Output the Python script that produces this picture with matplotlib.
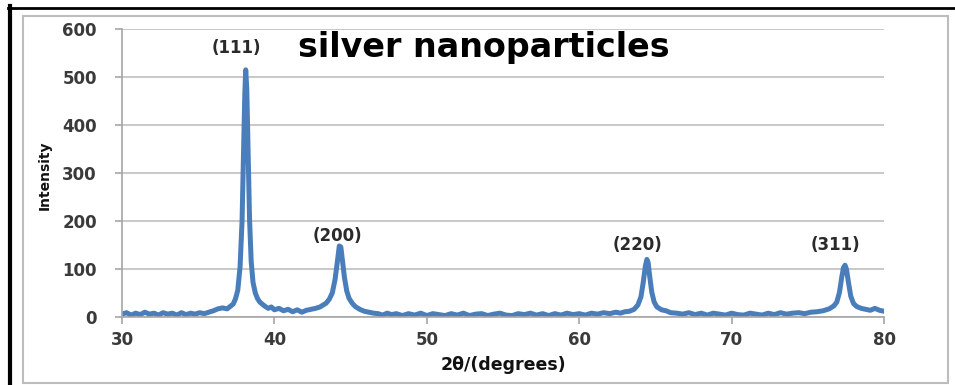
import matplotlib
matplotlib.use("Agg")
import matplotlib.pyplot as plt
from matplotlib.lines import Line2D
from matplotlib.patches import Rectangle

# XRD pattern (2theta in degrees, intensity in counts)
two_theta = [
    30.0, 30.3, 30.6, 30.9, 31.2, 31.5, 31.8, 32.1, 32.4, 32.7,
    33.0, 33.3, 33.6, 33.9, 34.2, 34.5, 34.8, 35.1, 35.4, 35.7,
    36.0, 36.3, 36.6, 36.9, 37.1, 37.3, 37.45, 37.6, 37.75, 37.88,
    37.98, 38.06, 38.12, 38.19, 38.27, 38.37, 38.48, 38.6, 38.75, 38.9,
    39.05, 39.2, 39.4, 39.6, 39.8, 40.0, 40.3, 40.6, 40.9, 41.2,
    41.5, 41.8, 42.1, 42.4, 42.7, 43.0, 43.2, 43.4, 43.6, 43.8,
    43.98, 44.12, 44.26, 44.36, 44.46, 44.6, 44.75, 44.9, 45.1, 45.3,
    45.6, 45.9, 46.2, 46.5, 46.8, 47.1, 47.4, 47.7, 48.0, 48.4,
    48.8, 49.2, 49.6, 50.0, 50.4, 50.8, 51.2, 51.6, 52.0, 52.4,
    52.8, 53.2, 53.6, 54.0, 54.4, 54.8, 55.2, 55.6, 56.0, 56.4,
    56.8, 57.2, 57.6, 58.0, 58.4, 58.8, 59.2, 59.6, 60.0, 60.4,
    60.8, 61.2, 61.6, 62.0, 62.4, 62.7, 63.0, 63.3, 63.6, 63.85,
    64.05, 64.2, 64.34, 64.44, 64.52, 64.62, 64.76, 64.92, 65.1, 65.4,
    65.7, 66.0, 66.4, 66.8, 67.2, 67.6, 68.0, 68.4, 68.8, 69.2,
    69.6, 70.0, 70.4, 70.8, 71.2, 71.6, 72.0, 72.4, 72.8, 73.2,
    73.6, 74.0, 74.4, 74.8, 75.2, 75.6, 76.0, 76.4, 76.7, 76.9,
    77.08, 77.22, 77.34, 77.44, 77.54, 77.66, 77.82, 78.0, 78.2, 78.5,
    78.8, 79.1, 79.4, 79.7, 80.0,
]
intensity = [
    6, 9, 4, 8, 5, 10, 6, 8, 4, 9,
    6, 8, 4, 9, 5, 8, 6, 9, 7, 10,
    13, 17, 19, 17, 22, 27, 38, 56, 105, 200,
    345, 465, 515, 475, 355, 205, 115, 72, 50, 38,
    31, 27, 22, 18, 21, 15, 18, 13, 16, 11,
    15, 10, 14, 16, 18, 21, 25, 29, 37, 50,
    78, 112, 148, 146, 120, 82, 54, 39, 29, 22,
    16, 12, 10, 8, 7, 4, 8, 5, 7, 3,
    7, 4, 8, 3, 7, 5, 3, 7, 4, 8,
    3, 6, 7, 3, 6, 8, 4, 3, 7, 5,
    8, 4, 7, 3, 7, 4, 8, 5, 7, 4,
    8, 6, 9, 7, 10, 8, 11, 12, 16, 25,
    42, 72, 106, 120, 114, 86, 52, 31, 21, 15,
    13, 9, 8, 6, 9, 5, 8, 4, 8, 6,
    4, 8, 5, 4, 8, 6, 4, 8, 5, 9,
    6, 8, 9, 7, 10, 11, 13, 17, 23, 31,
    52, 82, 103, 108, 99, 73, 43, 28, 22, 18,
    16, 14, 18, 14, 12,
]

peak_labels = ["(111)", "(200)", "(220)", "(311)"]
peak_label_x = [37.48, 44.17, 63.8, 76.8]
peak_label_y = [560, 169, 150, 150]

fig = plt.figure(figsize=(9.55, 3.85), dpi=100)
ax = fig.add_axes([0.1277, 0.1766, 0.798, 0.748])

ax.plot(two_theta, intensity, color="#4A7EBB", lw=3.6, solid_joinstyle="round")

ax.set_xlim(30, 80)
ax.set_ylim(0, 600)
ax.set_xticks(range(30, 81, 10))
ax.set_yticks(range(0, 601, 100))
ax.yaxis.grid(True, color="#BFBFBF", lw=1.2)
ax.set_axisbelow(True)

for side in ["top", "right"]:
    ax.spines[side].set_visible(False)
for side in ["left", "bottom"]:
    ax.spines[side].set_color("#A6A6A6")
    ax.spines[side].set_linewidth(1.2)

ax.tick_params(axis="both", direction="out", length=5, width=1.2, color="#A6A6A6",
               labelsize=12, labelcolor="#3A3A3A")
ax.tick_params(axis="y", pad=13)
ax.tick_params(axis="x", pad=5)
for lab in ax.get_xticklabels() + ax.get_yticklabels():
    lab.set_fontweight("bold")

for txt, px, py in zip(peak_labels, peak_label_x, peak_label_y):
    ax.text(px, py, txt, ha="center", va="center", fontsize=12,
            fontweight="bold", color="#2A2A2A")

ax.text(53.75, 562, "silver nanoparticles", ha="center", va="center",
        fontsize=24, fontweight="bold", color="black")

fig.text(503 / 955, 1 - 365 / 385, "2θ/(degrees)", ha="center", va="center",
         fontsize=12.5, fontweight="bold", color="#111111")
fig.text(45 / 955, 1 - 175 / 385, "Intensity", ha="center", va="center",
         rotation=90, fontsize=10, fontweight="bold",
         family=["Liberation Sans Narrow", "DejaVu Sans"], color="#111111")

# frame around the chart, as in the scanned figure
fig.add_artist(Rectangle((23 / 955, 1 - 383 / 385), 925 / 955, 367 / 385,
                         transform=fig.transFigure, fill=False,
                         edgecolor="#BDBDBD", lw=1.5))
fig.add_artist(Line2D([10 / 955, 10 / 955], [0, 1 - 6 / 385],
                      transform=fig.transFigure, color="black", lw=3))
fig.add_artist(Line2D([8 / 955, 1], [1 - 7.5 / 385, 1 - 7.5 / 385],
                      transform=fig.transFigure, color="black", lw=2))

fig.savefig("out.png", dpi=100)
